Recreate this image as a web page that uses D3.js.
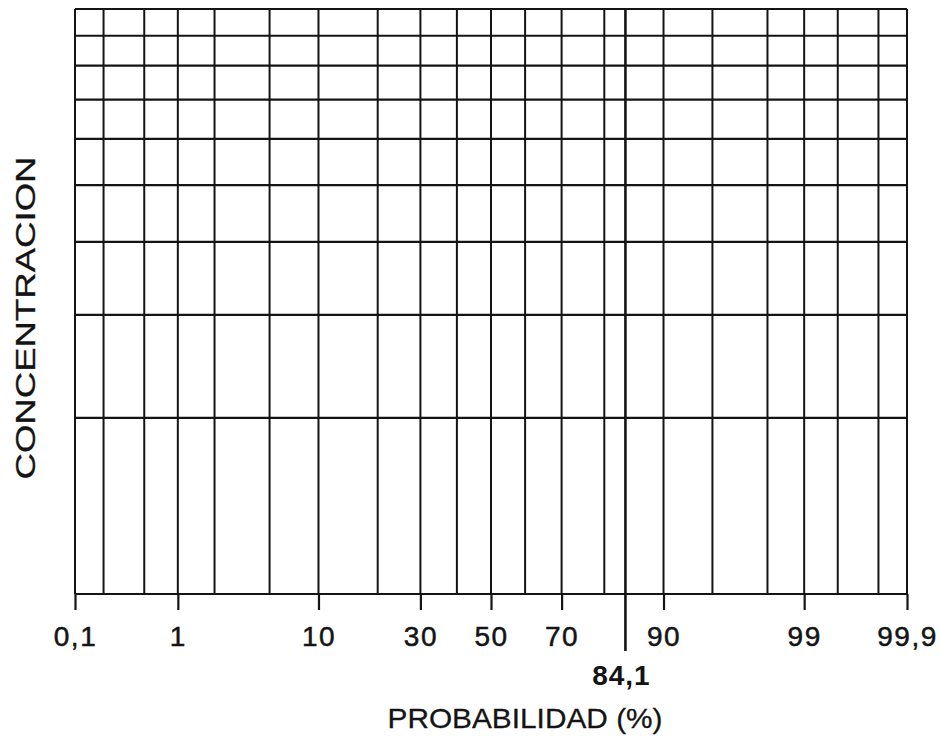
<!DOCTYPE html>
<html>
<head>
<meta charset="utf-8">
<script src="https://cdn.jsdelivr.net/npm/d3@7"></script>
<style>
  body { margin: 0; background: #fff; }
  svg { display: block; font-family: "Liberation Sans", Arial, Helvetica, sans-serif; }
</style>
</head>
<body>
<svg id="chart" width="941" height="742"></svg>
<script>
// probability grid (percent) and the labelled ticks
const gridProbs = [0.1, 0.2, 0.5, 1, 2, 5, 10, 20, 30, 40, 50, 60, 70, 80, 90, 95, 98, 99, 99.5, 99.8, 99.9];
const tickProbs = [0.1, 1, 10, 30, 50, 70, 90, 99, 99.9];
const tickLabels = ["0,1", "1", "10", "30", "50", "70", "90", "99", "99,9"];
const markerProb = 84.1;
const markerLabel = "84,1";
// one log decade of concentration
const concValues = [1, 2, 3, 4, 5, 6, 7, 8, 9, 10];

// inverse normal cdf (Acklam)
function probit(p) {
  const a = [-39.69683028665376, 220.9460984245205, -275.9285104469687, 138.3577518672690, -30.66479806614716, 2.506628277459239];
  const b = [-54.47609879822406, 161.5858368580409, -155.6989798598866, 66.80131188771972, -13.28068155288572];
  const c = [-0.007784894002430293, -0.3223964580411365, -2.400758277161838, -2.549732539343734, 4.374664141464968, 2.938163982698783];
  const d = [0.007784695709041462, 0.3224671290700398, 2.445134137142996, 3.754408661907416];
  const lo = 0.02425;
  let q, r;
  if (p < lo) {
    q = Math.sqrt(-2 * Math.log(p));
    return (((((c[0]*q+c[1])*q+c[2])*q+c[3])*q+c[4])*q+c[5]) / ((((d[0]*q+d[1])*q+d[2])*q+d[3])*q+1);
  } else if (p <= 1 - lo) {
    q = p - 0.5; r = q * q;
    return (((((a[0]*r+a[1])*r+a[2])*r+a[3])*r+a[4])*r+a[5])*q / (((((b[0]*r+b[1])*r+b[2])*r+b[3])*r+b[4])*r+1);
  }
  q = Math.sqrt(-2 * Math.log(1 - p));
  return -(((((c[0]*q+c[1])*q+c[2])*q+c[3])*q+c[4])*q+c[5]) / ((((d[0]*q+d[1])*q+d[2])*q+d[3])*q+1);
}

const svg = d3.select("#chart");
const plotLeft = 75, plotRight = 907, plotTop = 9, plotBottom = 594;
const ink = "#141414";

const x = d3.scaleLinear()
  .domain([probit(0.001), probit(0.999)])
  .range([plotLeft, plotRight]);
const px = p => x(probit(p / 100));

const y = d3.scaleLog()
  .domain([1, 10])
  .range([plotBottom, plotTop]);

// vertical grid
svg.append("g")
  .selectAll("line")
  .data(gridProbs)
  .join("line")
    .attr("x1", d => px(d))
    .attr("x2", d => px(d))
    .attr("y1", plotTop)
    .attr("y2", plotBottom)
    .attr("stroke", ink)
    .attr("stroke-width", 2);

// horizontal grid
svg.append("g")
  .selectAll("line")
  .data(concValues)
  .join("line")
    .attr("x1", plotLeft)
    .attr("x2", plotRight)
    .attr("y1", d => y(d))
    .attr("y2", d => y(d))
    .attr("stroke", ink)
    .attr("stroke-width", 2.2);

// bottom axis ticks + labels
const axis = svg.append("g")
  .attr("transform", `translate(0,${plotBottom})`)
  .call(d3.axisBottom(x)
    .tickValues(tickProbs.map(p => probit(p / 100)))
    .tickFormat((d, i) => tickLabels[i])
    .tickSize(16)
    .tickPadding(16));
axis.select(".domain").remove();
axis.selectAll(".tick line").attr("stroke", ink).attr("stroke-width", 2.2);
axis.selectAll(".tick text")
  .attr("fill", ink)
  .attr("stroke", ink)
  .attr("stroke-width", 0.5)
  .style("letter-spacing", "1.5px")
  .style("font-size", "28px")
  .style("font-family", "'Liberation Sans', Arial, sans-serif");

// 84,1 marker
svg.append("line")
  .attr("x1", px(markerProb))
  .attr("x2", px(markerProb))
  .attr("y1", plotTop)
  .attr("y2", 651)
  .attr("stroke", ink)
  .attr("stroke-width", 2.6);

svg.append("text")
  .attr("x", px(markerProb) - 4)
  .attr("y", 685)
  .attr("text-anchor", "middle")
  .attr("font-size", 28)
  .attr("font-weight", "bold")
  .style("letter-spacing", "1px")
  .attr("fill", ink)
  .text(markerLabel);

// axis titles
svg.append("text")
  .attr("x", 525)
  .attr("y", 728)
  .attr("text-anchor", "middle")
  .attr("font-size", 28)
  .attr("textLength", 275)
  .attr("lengthAdjust", "spacingAndGlyphs")
  .attr("fill", ink)
  .attr("stroke", ink)
  .attr("stroke-width", 0.3)
  .text("PROBABILIDAD (%)");

svg.append("text")
  .attr("transform", "translate(35,318) rotate(-90)")
  .attr("text-anchor", "middle")
  .attr("font-size", 28)
  .attr("textLength", 323)
  .attr("lengthAdjust", "spacingAndGlyphs")
  .attr("fill", ink)
  .attr("stroke", ink)
  .attr("stroke-width", 0.3)
  .text("CONCENTRACION");
</script>
</body>
</html>
